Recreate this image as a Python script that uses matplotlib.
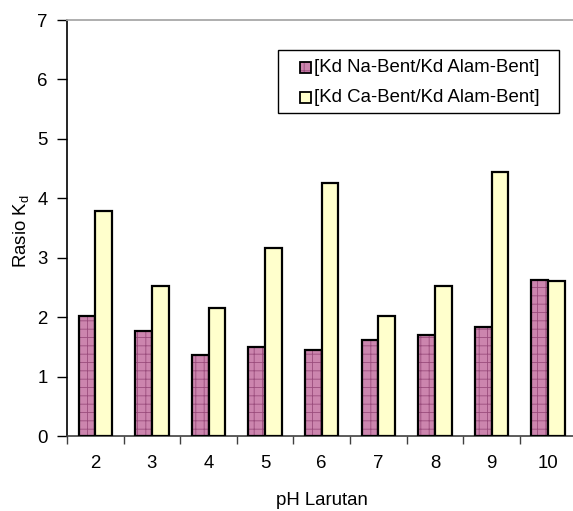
import matplotlib
matplotlib.use("Agg")
import matplotlib.pyplot as plt
import numpy as np
from matplotlib.patches import Rectangle

plt.rcParams['font.family'] = ['Liberation Sans', 'DejaVu Sans']
plt.rcParams['hatch.linewidth'] = 0.6

ph = ['2', '3', '4', '5', '6', '7', '8', '9', '10']
na_bent = [2.02, 1.77, 1.37, 1.50, 1.45, 1.61, 1.70, 1.83, 2.62]
ca_bent = [3.79, 2.52, 2.15, 3.17, 4.25, 2.02, 2.53, 4.45, 2.60]
labels = ['[Kd Na-Bent/Kd Alam-Bent]', '[Kd Ca-Bent/Kd Alam-Bent]']

na_face, na_hatch = '#cc85ae', '#9a4c7c'
ca_face = '#ffffcc'
FS = 13.4

W, H = 573, 511
fig = plt.figure(figsize=(W/100, H/100), dpi=100)
ax = fig.add_axes([67/W, 75/H, 509.4/W, 416/H])

x = np.arange(len(ph))
w = 0.295
ax.bar(x - w/2, na_bent, w, color=na_face, edgecolor=na_hatch, hatch='++', linewidth=0, zorder=2)
ax.bar(x - w/2, na_bent, w, facecolor='none', edgecolor='black', linewidth=1.6, zorder=3)
ax.bar(x + w/2, ca_bent, w, color=ca_face, edgecolor='black', linewidth=1.6, zorder=3)

def fx(px):
    return px / W
def fy(py):
    return 1 - py / H

# manual legend
fig.patches.append(Rectangle((fx(278), fy(113)), fx(559) - fx(278), fy(50) - fy(113),
                             transform=fig.transFigure, facecolor='white', edgecolor='black',
                             linewidth=1.0, zorder=5))
rows = [(68, na_face, '++'), (98, ca_face, None)]
for (yc, fc, hat), lab in zip(rows, labels):
    s = 11
    fig.patches.append(Rectangle((fx(300), fy(yc + s/2)), s/W, s/H, transform=fig.transFigure,
                                 facecolor=fc, edgecolor=na_hatch if hat else 'black',
                                 hatch=hat, linewidth=0, zorder=6))
    fig.patches.append(Rectangle((fx(300), fy(yc + s/2)), s/W, s/H, transform=fig.transFigure,
                                 facecolor='none', edgecolor='black', linewidth=1.3, zorder=7))
    fig.text(fx(314), fy(yc), lab, fontsize=FS, ha='left', va='center', zorder=8)

ax.set_xlim(-0.5, len(ph) - 0.5)
ax.set_ylim(0, 7)
ax.set_yticks(range(0, 8))
ax.set_xticks(x)
ax.set_xticklabels(ph)
ax.set_xticks(np.arange(-0.5, len(ph) - 0.4, 1), minor=True)
ax.tick_params(axis='x', which='major', length=0, labelsize=FS, pad=14)
ax.tick_params(axis='x', which='minor', length=6, width=1, direction='out', color='#404040')
ax.tick_params(axis='y', length=7, width=1, direction='out', labelsize=FS, pad=7)

ax.spines['right'].set_visible(False)
ax.spines['top'].set_color('#a8a8a8')
ax.spines['top'].set_linewidth(1.3)
ax.spines['left'].set_linewidth(1.2)
ax.spines['bottom'].set_linewidth(1.2)
ax.spines['bottom'].set_color('#404040')

ax.set_xlabel('pH Larutan', fontsize=FS, labelpad=14)
fig.text(fx(22), fy(231), 'Rasio K$_\\mathregular{d}$', fontsize=FS, rotation=90,
         ha='center', va='center')

fig.savefig('out.png', dpi=100)
